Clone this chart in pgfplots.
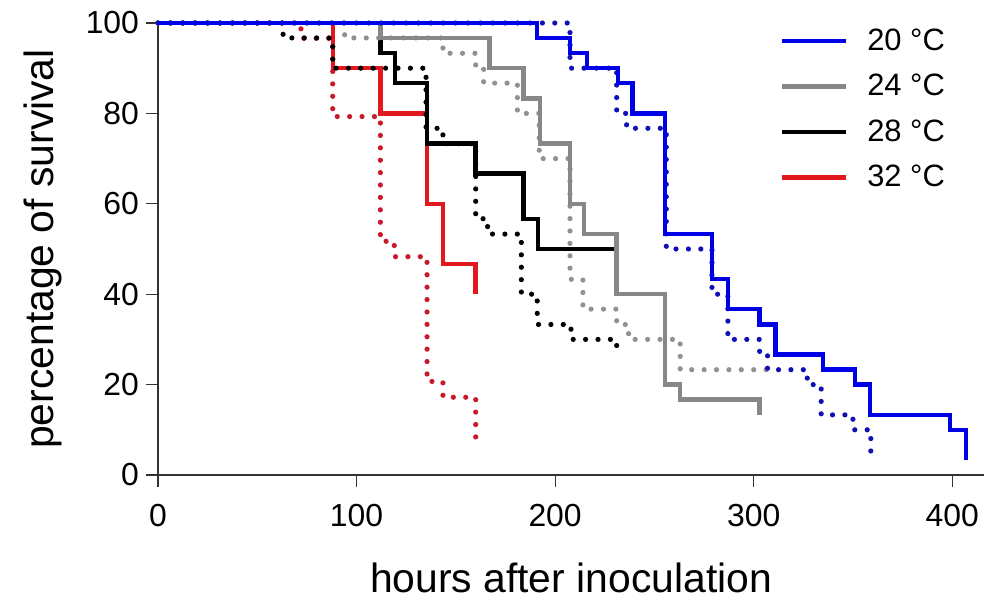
\documentclass[border=0pt]{standalone}
\usepackage{fontspec}
\setmainfont{Liberation Sans}
\usepackage{pgfplots}
\pgfplotsset{compat=1.18}

\definecolor{c20}{RGB}{0,0,230}
\definecolor{c20d}{RGB}{15,15,180}
\definecolor{c24}{RGB}{135,135,135}
\definecolor{c24d}{RGB}{145,145,145}
\definecolor{c28}{RGB}{0,0,0}
\definecolor{c32}{RGB}{225,25,30}
\definecolor{c32d}{RGB}{200,25,45}

\pgfplotsset{
  solidln/.style={line width=2.2bp, const plot, forget plot, line cap=butt, line join=miter},
  dotln/.style={line width=2.6bp, const plot, forget plot, line cap=round, dash pattern=on 0bp off 6.2bp},
}

\begin{document}
\begin{tikzpicture}
\path[use as bounding box] (-79bp,-65.5bp) rectangle (413bp,237.5bp);
\begin{axis}[
  at={(0,0)}, anchor=south west,
  scale only axis, width=413bp, height=226bp,
  xmin=0, xmax=416, ymin=0, ymax=100,
  axis x line*=bottom, axis y line*=left,
  axis line style={-, black!80, line width=0.7bp},
  xtick={0,100,...,400}, ytick={0,20,...,100},
  tick align=outside, major tick length=6bp,
  tick style={black!80, line width=0.6bp},
  /pgf/number format/assume math mode=true,
  every tick label/.append style={font=\fontsize{16}{19}\selectfont},
  xticklabel style={yshift=-5bp},
  xlabel={hours after inoculation},
  ylabel={percentage of survival},
  label style={font=\fontsize{20.5}{24}\selectfont},
  xlabel style={at={(axis description cs:0.5,-0.228)}, anchor=center},
  ylabel style={at={(axis description cs:-0.139,0.5)}, anchor=center},
  clip=false,
  legend style={at={(axis cs:313,99.7)}, anchor=north west, draw=none, fill=none,
    font=\fontsize{15.5}{18}\selectfont, row sep=6.5bp, inner sep=0pt},
  legend cell align=left,
  legend image code/.code={\draw[#1] (0bp,0bp) -- (32bp,0bp); \path (39.5bp,0bp);},
]
\addlegendimage{c20, line width=2.2bp}
\addlegendentry{20 °C}
\addlegendimage{c24, line width=2.2bp}
\addlegendentry{24 °C}
\addlegendimage{c28, line width=2.2bp}
\addlegendentry{28 °C}
\addlegendimage{c32, line width=2.2bp}
\addlegendentry{32 °C}

% 32 C
\addplot[c32, solidln] coordinates {(0,100) (88,90) (112,80) (135.5,60) (143.5,46.7) (160,40)};
\addplot[c32d, dotln] coordinates {(0,100) (72,96.6) (88,79.3) (112,51.7) (119,48.3) (135.5,20.7) (143.5,17.2) (160,6.9)};
% 28 C
\addplot[c28, solidln] coordinates {(0,100) (112,93.3) (119.4,86.7) (135.5,73.3) (160,66.7) (184,56.7) (191.5,50) (230,50)};
\addplot[c28, dotln] coordinates {(0,100) (63,96.7) (88,90) (135,76.7) (143.5,73.3) (160,56.7) (166,53.3) (183,40) (191,33.3) (208,30) (231,26.7)};
% 24 C
\addplot[c24d, dotln] coordinates {(0,100) (94,96.7) (143.5,93.3) (160,90) (164,86.7) (181,80) (192,70) (207.5,43.3) (214,36.7) (231,33.3) (237,30) (263,23.3) (311,23.3)};
\addplot[c24, solidln] coordinates {(0,100) (112,96.7) (167,90) (184,83.3) (192.5,73.3) (207.5,60) (214.5,53.3) (231,40) (255.4,20) (263,16.7) (303,13.3)};
% 20 C
\addplot[c20d, dotln] coordinates {(0,100) (207.5,90) (231,80) (236,76.7) (256,50) (279,40) (287,30) (303,26.7) (307,23.3) (327,20) (334,13.3) (350,10) (359,5)};
\addplot[c20, solidln] coordinates {(0,100) (191,96.7) (207.5,93.3) (216,90) (231.7,86.7) (239,80) (255.4,53.3) (279,43.3) (287,36.7) (303,33.3) (311,26.7) (335,23.3) (351,20) (358.7,13.3) (399,10) (407,3.3)};
\end{axis}
\end{tikzpicture}
\end{document}
